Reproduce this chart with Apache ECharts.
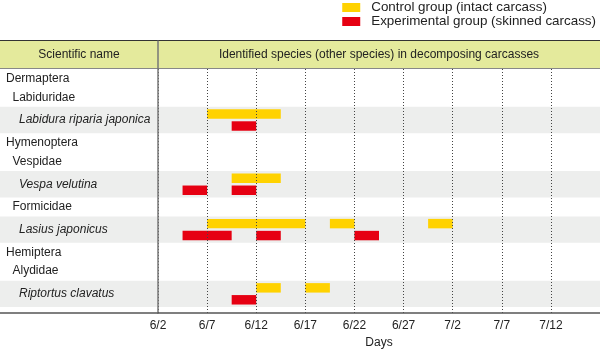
<!DOCTYPE html>
<html>
<head>
<meta charset="utf-8">
<script src="https://cdn.jsdelivr.net/npm/echarts@6/dist/echarts.min.js"></script>
<style>
  html, body { margin: 0; padding: 0; background: #fff; }
  #chart { width: 600px; height: 350px; }
</style>
</head>
<body>
<div id="chart"></div>
<script>
// x axis: days counted from 6/2
var tickLabels = ['6/2', '6/7', '6/12', '6/17', '6/22', '6/27', '7/2', '7/7', '7/12'];

// left column, top to bottom (0 = order, 1 = family, 2 = species)
var rowNames = ['Dermaptera', 'Labiduridae', 'Labidura riparia japonica',
  'Hymenoptera', 'Vespidae', 'Vespa velutina', 'Formicidae', 'Lasius japonicus',
  'Hemiptera', 'Alydidae', 'Riptortus clavatus'];
var rowLevels = [0, 1, 2, 0, 1, 2, 1, 2, 0, 1, 2];

// [species, start day, end day]
var controlBars = [
  ['Labidura riparia japonica', 5, 12.5],
  ['Vespa velutina', 7.5, 12.5],
  ['Lasius japonicus', 5, 15],
  ['Lasius japonicus', 17.5, 20],
  ['Lasius japonicus', 27.5, 30],
  ['Riptortus clavatus', 10, 12.5],
  ['Riptortus clavatus', 15, 17.5]
];
var experimentalBars = [
  ['Labidura riparia japonica', 7.5, 10],
  ['Vespa velutina', 2.5, 5],
  ['Vespa velutina', 7.5, 10],
  ['Lasius japonicus', 2.5, 7.5],
  ['Lasius japonicus', 10, 12.5],
  ['Lasius japonicus', 20, 22.5],
  ['Riptortus clavatus', 7.5, 10]
];

// row layout (y axis units)
var rowTops = [], rowHeights = [];
var yTotal = 0;
rowLevels.forEach(function (lv) {
  var h = lv === 2 ? 26.5 : 19;
  rowTops.push(yTotal);
  rowHeights.push(h);
  yTotal += h;
});
yTotal += 6;
var indents = [6, 12.5, 19];
var FONT = '"Liberation Sans", Arial, sans-serif';

var myChart = echarts.init(document.getElementById('chart'));

function rowItem(params, api) {
  var i = api.value(0);
  var p0 = api.coord([0, rowTops[i]]);
  var p1 = api.coord([0, rowTops[i] + rowHeights[i]]);
  var lv = rowLevels[i];
  var children = [];
  if (lv === 2) {
    children.push({
      type: 'rect',
      shape: { x: 0, y: p0[1], width: 600, height: p1[1] - p0[1] },
      style: { fill: '#edeeed' }
    });
  }
  children.push({
    type: 'text',
    style: {
      x: indents[lv], y: (p0[1] + p1[1]) / 2,
      text: rowNames[i],
      fill: '#222',
      font: (lv === 2 ? 'italic ' : '') + '12px ' + FONT,
      verticalAlign: 'middle'
    }
  });
  return { type: 'group', children: children };
}

function barItem(offset) {
  return function (params, api) {
    var i = api.value(0);
    var c = rowTops[i] + rowHeights[i] / 2 + offset;
    var a = api.coord([api.value(1), c]);
    var b = api.coord([api.value(2), c]);
    var h = api.size([0, 9.5])[1];
    return {
      type: 'rect',
      shape: { x: a[0], y: a[1] - h / 2, width: b[0] - a[0], height: h },
      style: api.style()
    };
  };
}

function toData(list) {
  return list.map(function (d) { return [rowNames.indexOf(d[0]), d[1], d[2]]; });
}

var option = {
  animation: false,
  textStyle: { fontFamily: FONT },
  legend: {
    orient: 'vertical',
    right: 4,
    top: 1,
    padding: 0,
    itemGap: 1,
    itemWidth: 18,
    itemHeight: 9,
    icon: 'rect',
    data: ['Control group (intact carcass)', 'Experimental group (skinned carcass)'],
    textStyle: { fontSize: 13.4, color: '#222', padding: [0, 0, 0, 6] }
  },
  grid: { left: 158, right: 0, top: 69, bottom: 37, outerBoundsMode: 'none' },
  xAxis: {
    type: 'value',
    min: 0,
    max: 45,
    interval: 5,
    z: 3,
    name: 'Days',
    nameLocation: 'middle',
    nameGap: 24,
    nameTextStyle: { fontSize: 12, color: '#222' },
    axisLine: { onZero: false, lineStyle: { color: '#555', width: 1.5 } },
    axisTick: { show: false },
    axisLabel: {
      fontSize: 12, color: '#222', margin: 7,
      formatter: function (v) { return tickLabels[v / 5] || ''; }
    },
    splitLine: { show: true, lineStyle: { color: '#444', width: 1, type: [1, 2] } }
  },
  yAxis: {
    type: 'value',
    inverse: true,
    min: 0,
    max: yTotal,
    z: 3,
    axisLine: { show: true, lineStyle: { color: '#777', width: 1.5 } },
    axisTick: { show: false },
    axisLabel: { show: false },
    splitLine: { show: false }
  },
  graphic: [
    { type: 'rect', shape: { x: 0, y: 40.5, width: 600, height: 28 }, style: { fill: '#e4ea9c' } },
    { type: 'line', shape: { x1: 0, y1: 40.5, x2: 600, y2: 40.5 }, style: { stroke: '#333', lineWidth: 1 } },
    { type: 'line', shape: { x1: 0, y1: 68.5, x2: 600, y2: 68.5 }, style: { stroke: '#888', lineWidth: 1 } },
    { type: 'line', shape: { x1: 158, y1: 40.5, x2: 158, y2: 69 }, style: { stroke: '#777', lineWidth: 1.5 } },
    { type: 'line', shape: { x1: 0, y1: 313, x2: 158, y2: 313 }, style: { stroke: '#555', lineWidth: 1.5 } },
    { type: 'text', style: { x: 79, y: 54.5, text: 'Scientific name', fill: '#222', font: '12px ' + FONT, align: 'center', verticalAlign: 'middle' } },
    { type: 'text', style: { x: 379, y: 54.5, text: 'Identified species (other species) in decomposing carcasses', fill: '#222', font: '12px ' + FONT, align: 'center', verticalAlign: 'middle' } }
  ],
  series: [
    {
      name: 'rows',
      type: 'custom',
      renderItem: rowItem,
      data: rowNames.map(function (n, i) { return [i]; }),
      encode: { y: 0 },
      silent: true
    },
    {
      name: 'Control group (intact carcass)',
      type: 'custom',
      renderItem: barItem(-6),
      itemStyle: { color: '#ffd200' },
      encode: { x: [1, 2], y: 0 },
      data: toData(controlBars)
    },
    {
      name: 'Experimental group (skinned carcass)',
      type: 'custom',
      renderItem: barItem(6),
      itemStyle: { color: '#e60012' },
      encode: { x: [1, 2], y: 0 },
      data: toData(experimentalBars)
    }
  ]
};

myChart.setOption(option);
window.addEventListener('resize', function () {
  myChart.resize();
});
</script>
</body>
</html>
